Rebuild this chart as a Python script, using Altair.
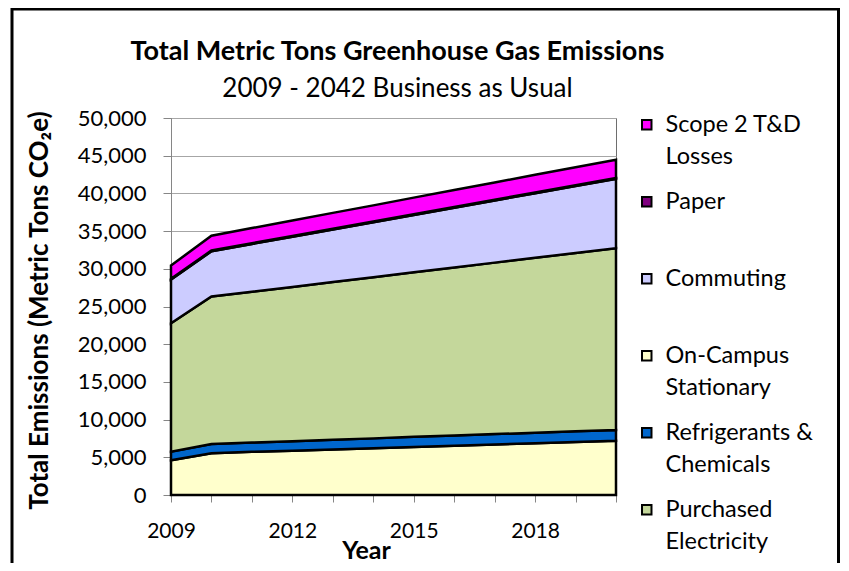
import json
import altair as alt
import pandas as pd

# ---------------- data ----------------
years = [2009, 2010, 2011, 2012, 2013, 2014, 2015, 2016, 2017, 2018, 2019, 2020]

on_campus_stationary = [4600, 5550, 5720, 5880, 6050, 6210, 6380, 6540, 6710, 6870, 7040, 7200]
refrigerants_chemicals = [1150, 1220, 1240, 1260, 1280, 1300, 1330, 1350, 1370, 1390, 1410, 1430]
purchased_electricity = [17030, 19550, 20010, 20460, 20920, 21370, 21830, 22290, 22740, 23200, 23650, 24110]
commuting = [5790, 6010, 6330, 6650, 6970, 7280, 7600, 7920, 8240, 8560, 8870, 9190]
paper = [100, 100, 100, 100, 100, 100, 100, 100, 100, 100, 100, 100]
scope2_td_losses = [1770, 1950, 2000, 2050, 2100, 2150, 2200, 2240, 2290, 2340, 2390, 2440]

# stacking order, bottom to top
stack_order = [
    "On-Campus Stationary",
    "Refrigerants & Chemicals",
    "Purchased Electricity",
    "Commuting",
    "Paper",
    "Scope 2 T&D Losses",
]
series_values = [
    on_campus_stationary,
    refrigerants_chemicals,
    purchased_electricity,
    commuting,
    paper,
    scope2_td_losses,
]

# legend order as in the reference, with colours
legend_order = [
    "Scope 2 T&D Losses",
    "Paper",
    "Commuting",
    "On-Campus Stationary",
    "Refrigerants & Chemicals",
    "Purchased Electricity",
]
legend_colors = ["#FF00FF", "#800080", "#CCCCFF", "#FFFFCC", "#0066CC", "#C4D79B"]
legend_lines = {
    "Scope 2 T&D Losses": ["Scope 2 T&D", "Losses"],
    "On-Campus Stationary": ["On-Campus", "Stationary"],
    "Refrigerants & Chemicals": ["Refrigerants &", "Chemicals"],
    "Purchased Electricity": ["Purchased", "Electricity"],
}

y_ticks = [0, 5000, 10000, 15000, 20000, 25000, 30000, 35000, 40000, 45000, 50000]

title_text = "Total Metric Tons Greenhouse Gas Emissions"
subtitle_text = "2009 - 2042 Business as Usual"
x_title = "Year"
y_title = "Total Emissions (Metric Tons CO₂e)"

# ---------------- build long table ----------------
rows = []
for rank, (name, vals) in enumerate(zip(stack_order, series_values)):
    for yr, v in zip(years, vals):
        rows.append({"Year": yr, "Source": name, "Emissions": v, "rank": rank})
df = pd.DataFrame(rows)

label_expr = ""
for k, v in legend_lines.items():
    label_expr += f"datum.label == {json.dumps(k)} ? {json.dumps(v)} : "
label_expr += "datum.label"

FONT = "Lato"

area = alt.Chart(df).mark_area(
    stroke="black", strokeWidth=2.5, opacity=1, strokeJoin="miter"
).encode(
    x=alt.X(
        "Year:Q",
        scale=alt.Scale(domain=[years[0], years[-1]], nice=False, zero=False),
        axis=alt.Axis(
            values=years,
            format="d",
            labelExpr="(datum.value - 2009) % 3 == 0 ? datum.label : ''",
            labelFlush=False,
            labelOverlap=False,
            labelFontSize=21,
            grid=False,
            tickSize=7,
            labelPadding=18,
            title=x_title,
            titleFontSize=25,
            titleX=195,
            titleY=63,
            titleBaseline="alphabetic",
            titleAnchor="start",
            titleAlign="center",
        ),
    ),
    y=alt.Y(
        "Emissions:Q",
        stack="zero",
        scale=alt.Scale(domain=[0, 50000], nice=False),
        axis=alt.Axis(
            values=y_ticks,
            format=",.0f",
            grid=True,
            tickSize=8,
            labelPadding=17,
            labelFontSize=22,
            title=y_title,
            titleFontSize=26,
            titleX=-124,
            titleY=192,
            titleBaseline="alphabetic",
            titleAlign="center",
            titleAngle=270,
        ),
    ),
    color=alt.Color(
        "Source:N",
        scale=alt.Scale(domain=legend_order, range=legend_colors),
        legend=alt.Legend(
            title=None,
            orient="none",
            legendX=464,
            legendY=-5,
            symbolType="square",
            symbolSize=90,
            symbolStrokeColor="black",
            symbolStrokeWidth=2,
            symbolOpacity=1,
            labelFont=FONT,
            labelFontSize=23.5,
            labelColor="black",
            labelLimit=0,
            labelOffset=7,
            labelExpr=label_expr,
            gridAlign="all",
            rowPadding=20,
            padding=0,
        ),
    ),
    order=alt.Order("rank:Q"),
)

frame = alt.Chart(pd.DataFrame({"f": [0]})).mark_rect(
    filled=False, stroke="black", strokeWidth=3
).encode(
    x=alt.value(-159), x2=alt.value(667.5), y=alt.value(-109), y2=alt.value(480)
)

chart = alt.layer(area, frame).properties(
    width=445,
    height=377,
    autosize=alt.AutoSizeParams(type="none"),
    padding={"left": 163, "top": 110, "right": 225, "bottom": 68},
    title=alt.TitleParams(
        text=title_text,
        subtitle=subtitle_text,
        anchor="middle",
        frame="group",
        dx=4,
        dy=109,
        offset=14,
    ),
).configure_view(
    stroke="#6E6E6E", strokeWidth=1
).configure_axis(
    labelFont=FONT,
    labelColor="black",
    titleFont=FONT,
    titleFontWeight="bold",
    titleColor="black",
    domainColor="#868686",
    tickColor="#868686",
    gridColor="#A6A6A6",
).configure_title(
    font=FONT,
    fontSize=27,
    fontWeight="bold",
    color="black",
    subtitleFont=FONT,
    subtitleFontSize=26,
    subtitleColor="black",
    subtitlePadding=10,
)

chart.config.style = {"guide-label": {"lineHeight": 32}}

chart.save("out.html", embed_options={"renderer": "svg", "actions": False})
